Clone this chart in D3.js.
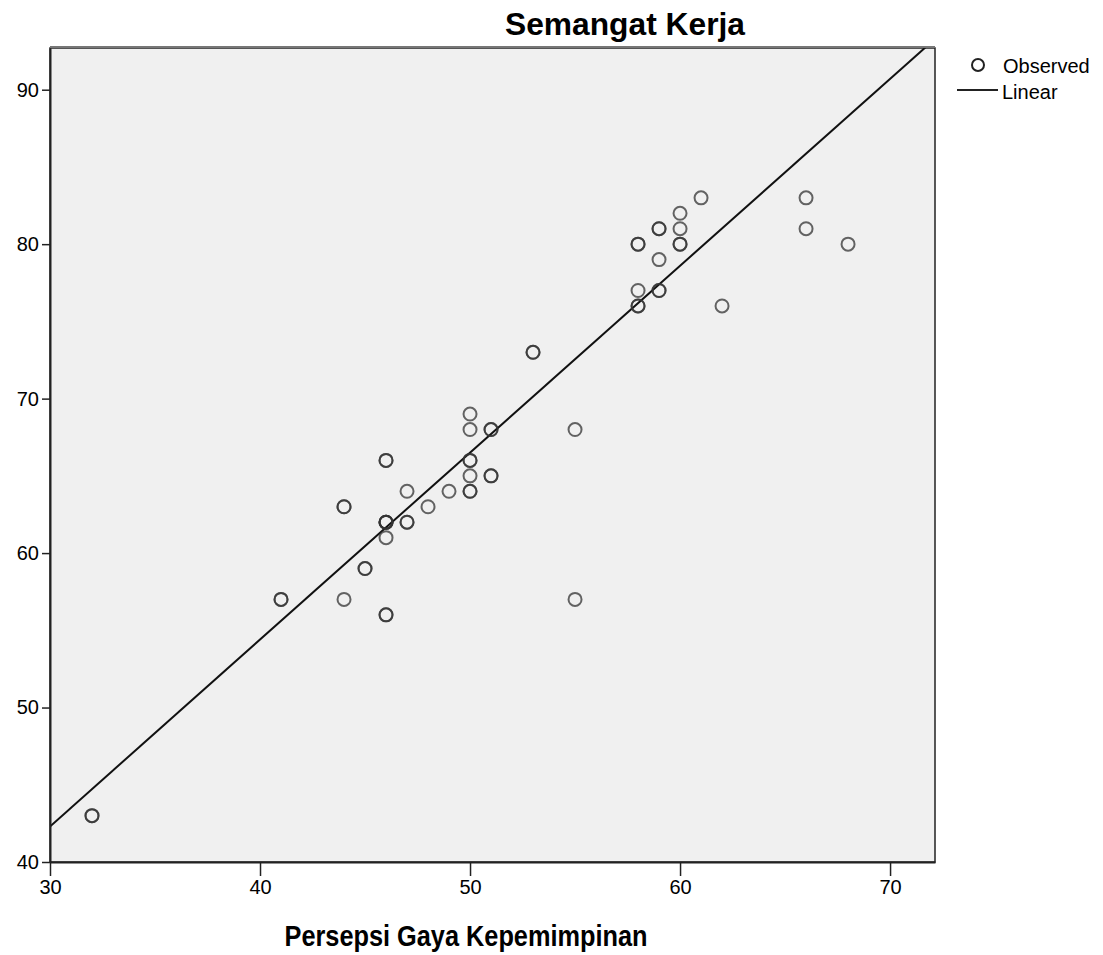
<!DOCTYPE html>
<html>
<head>
<meta charset="utf-8">
<script src="https://cdn.jsdelivr.net/npm/d3@7"></script>
<style>
  body { margin: 0; background: #fff; }
  svg text { font-family: "Liberation Sans", Arial, sans-serif; fill: #000; }
</style>
</head>
<body>
<div id="chart"></div>
<script>
// observed points (duplicates repeated, as they overlap in the original)
const gayaKepemimpinan = [32, 32, 41, 41, 44, 44, 44, 45, 45, 46, 46, 46, 46, 46, 46, 46, 46, 46, 47, 47, 47, 48, 49, 50, 50, 50, 50, 50, 50, 50, 51, 51, 51, 51, 53, 53, 55, 55, 58, 58, 58, 58, 58, 59, 59, 59, 59, 59, 60, 60, 60, 60, 61, 62, 66, 66, 68];
const semangatKerja    = [43, 43, 57, 57, 57, 63, 63, 59, 59, 56, 56, 61, 62, 62, 66, 66, 62, 62, 62, 62, 64, 63, 64, 64, 64, 65, 66, 66, 68, 69, 65, 65, 68, 68, 73, 73, 68, 57, 76, 76, 77, 80, 80, 77, 77, 79, 81, 81, 80, 80, 81, 82, 83, 76, 83, 81, 80];
const linearCoef = { intercept: 6.0, slope: 1.21 };
const xTicks = [30, 40, 50, 60, 70];
const yTicks = [40, 50, 60, 70, 80, 90];

const margin = { top: 48, right: 168, bottom: 93, left: 50 };
const width = 1103 - margin.left - margin.right;
const height = 955 - margin.top - margin.bottom;

const svg = d3.select("#chart").append("svg")
    .attr("width", 1103)
    .attr("height", 955);

const g = svg.append("g")
    .attr("transform", "translate(" + margin.left + "," + margin.top + ")");

const x = d3.scaleLinear().domain([30, 72.14]).range([0, width]);
const y = d3.scaleLinear().domain([40, 92.7]).range([height, 0]);

g.append("rect")
    .attr("width", width)
    .attr("height", height)
    .attr("fill", "#f0f0f0")
    .attr("stroke", "#222")
    .attr("stroke-width", 1.5);
// top border appears heavier / doubled
g.append("line")
    .attr("x1", 0).attr("x2", width).attr("y1", -1).attr("y2", -1)
    .attr("stroke", "#777").attr("stroke-width", 2);

// clip for regression line
svg.append("clipPath").attr("id", "clip")
    .append("rect").attr("width", width).attr("height", height);

const x0 = 30, x1 = 72.14;
g.append("line")
    .attr("clip-path", "url(#clip)")
    .attr("x1", x(x0)).attr("y1", y(linearCoef.intercept + linearCoef.slope * x0))
    .attr("x2", x(x1)).attr("y2", y(linearCoef.intercept + linearCoef.slope * x1))
    .attr("stroke", "#111")
    .attr("stroke-width", 2);

const points = gayaKepemimpinan.map((d, i) => ({ x: d, y: semangatKerja[i] }));
g.selectAll(".dot")
    .data(points)
    .enter().append("circle")
    .attr("class", "dot")
    .attr("cx", d => x(d.x))
    .attr("cy", d => y(d.y))
    .attr("r", 6.5)
    .attr("fill", "none")
    .attr("stroke", "#333")
    .attr("stroke-opacity", 0.75)
    .attr("stroke-width", 2);

// axes
const xAxis = g.append("g")
    .attr("transform", "translate(0," + height + ")")
    .call(d3.axisBottom(x).tickValues(xTicks).tickSizeInner(14).tickSizeOuter(0).tickPadding(4).tickFormat(d3.format("d")));
const yAxis = g.append("g")
    .call(d3.axisLeft(y).tickValues(yTicks).tickSizeInner(8).tickSizeOuter(0).tickPadding(3).tickFormat(d3.format("d")));

[xAxis, yAxis].forEach(a => {
    a.select(".domain").attr("stroke", "#222").attr("stroke-width", 2);
    a.selectAll(".tick line").attr("stroke", "#222").attr("stroke-width", 1.5);
    a.selectAll(".tick text").style("font-size", "20px").attr("fill", "#222");
});

// title and axis label
svg.append("text")
    .attr("x", 625).attr("y", 35)
    .attr("text-anchor", "middle")
    .attr("textLength", 240)
    .attr("lengthAdjust", "spacingAndGlyphs")
    .style("font-size", "32px")
    .style("font-weight", "bold")
    .text("Semangat Kerja");

svg.append("text")
    .attr("x", 466).attr("y", 946)
    .attr("text-anchor", "middle")
    .attr("textLength", 363)
    .attr("lengthAdjust", "spacingAndGlyphs")
    .style("font-size", "29px")
    .style("font-weight", "bold")
    .text("Persepsi Gaya Kepemimpinan");

// legend
const legend = svg.append("g");
legend.append("circle")
    .attr("cx", 978).attr("cy", 65).attr("r", 6)
    .attr("fill", "none").attr("stroke", "#222").attr("stroke-width", 2);
legend.append("text")
    .attr("x", 1003).attr("y", 73)
    .style("font-size", "20px")
    .text("Observed");
legend.append("line")
    .attr("x1", 957).attr("x2", 998).attr("y1", 90).attr("y2", 90)
    .attr("stroke", "#222").attr("stroke-width", 2);
legend.append("text")
    .attr("x", 1002).attr("y", 99)
    .style("font-size", "20px")
    .text("Linear");
</script>
</body>
</html>
